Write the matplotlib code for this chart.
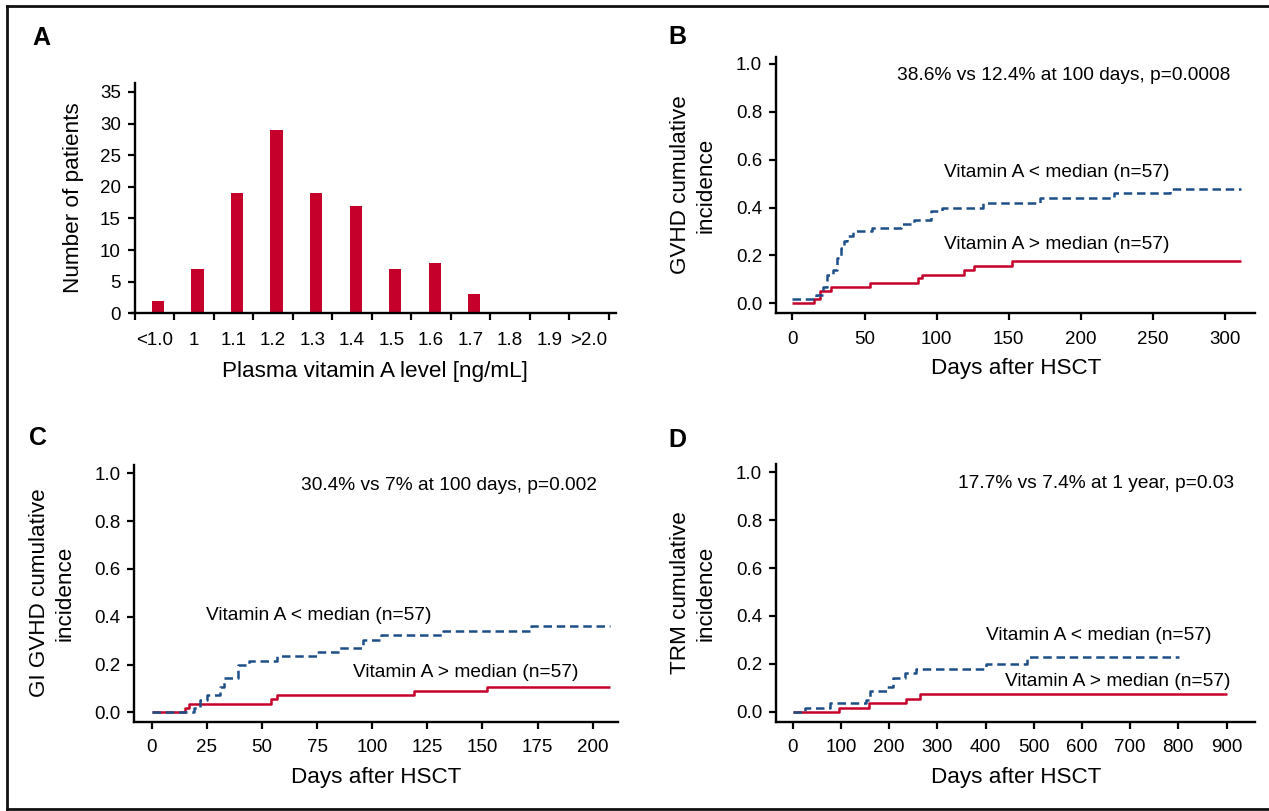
import matplotlib
matplotlib.use('Agg')
import matplotlib.pyplot as plt
from matplotlib.lines import Line2D

W, H = 1269, 811
REG = 'Liberation Sans'
plt.rcParams['font.family'] = [REG, 'DejaVu Sans']

RED = '#c4002b'
BLUE = '#1c4f88'

# ---------------- data ----------------
vitA_levels = ['<1.0', '1', '1.1', '1.2', '1.3', '1.4', '1.5', '1.6', '1.7', '1.8', '1.9', '>2.0']
vitA_counts = [2, 7, 19, 29, 19, 17, 7, 8, 3, 0, 0, 0]
countA_ticks = [0, 5, 10, 15, 20, 25, 30, 35]

# B: GVHD cumulative incidence
gvhd_low_days = [0, 16, 21, 24, 28, 31, 34, 36, 38, 42, 55, 75, 84, 96, 104, 132, 172, 223, 262, 311]
gvhd_low_ci = [0.018, 0.035, 0.07, 0.12, 0.14, 0.19, 0.23, 0.26, 0.28, 0.30, 0.315, 0.33, 0.35,
               0.385, 0.40, 0.42, 0.44, 0.46, 0.476, 0.476]
gvhd_high_days = [0, 15, 19, 27, 54, 87, 90, 119, 126, 152, 311]
gvhd_high_ci = [0, 0.018, 0.05, 0.068, 0.085, 0.105, 0.12, 0.138, 0.156, 0.177, 0.177]
daysB_ticks = [0, 50, 100, 150, 200, 250, 300]

# C: GI GVHD cumulative incidence
gi_low_days = [0, 19, 22, 25, 31, 33, 39, 44, 57, 75, 85, 96, 104, 132, 172, 208]
gi_low_ci = [0, 0.018, 0.053, 0.072, 0.107, 0.145, 0.198, 0.217, 0.235, 0.253, 0.271, 0.304,
             0.323, 0.342, 0.360, 0.360]
gi_high_days = [0, 15, 17, 54, 57, 119, 152, 208]
gi_high_ci = [0, 0.018, 0.036, 0.054, 0.071, 0.089, 0.107, 0.107]
daysC_ticks = [0, 25, 50, 75, 100, 125, 150, 175, 200]

# D: TRM cumulative incidence
trm_low_days = [0, 25, 78, 152, 160, 195, 208, 233, 256, 400, 486, 802]
trm_low_ci = [0, 0.015, 0.035, 0.05, 0.088, 0.105, 0.14, 0.16, 0.177, 0.20, 0.23, 0.23]
trm_high_days = [0, 96, 158, 235, 263, 900]
trm_high_ci = [0, 0.017, 0.035, 0.053, 0.072, 0.072]
daysD_ticks = [0, 100, 200, 300, 400, 500, 600, 700, 800, 900]

ci_ticks = [0.0, 0.2, 0.4, 0.6, 0.8, 1.0]

label_low = 'Vitamin A < median (n=57)'
label_high = 'Vitamin A > median (n=57)'

# ---------------- figure ----------------
fig = plt.figure(figsize=(W / 100, H / 100), dpi=100)
fig.patch.set_facecolor('white')

TICK_FS = 13.5
LAB_FS = 16.2
ANN_FS = 13.8


def px_axes(left, right, top, bottom):
    return fig.add_axes([left / W, 1 - bottom / H, (right - left) / W, (bottom - top) / H])


def style(ax):
    for s in ['top', 'right']:
        ax.spines[s].set_visible(False)
    for s in ['left', 'bottom']:
        ax.spines[s].set_linewidth(1.7)
    ax.tick_params(direction='out', length=5, width=1.6, labelsize=TICK_FS, color='black')
    ax.tick_params(axis='x', pad=7.5)
    ax.tick_params(axis='y', pad=5)
    ax.patch.set_alpha(0)


def ftext(x, y, s, **kw):
    fig.text(x / W, 1 - y / H, s, **kw)


# Panel A
axA = px_axes(132, 616, 82.5, 313.3)
idx = list(range(len(vitA_levels)))
axA.bar([i + 0.09 for i in idx], vitA_counts, width=0.31, color=RED, linewidth=0)
axA.set_xlim(-0.57, 11.68)
axA.set_ylim(0, 36.5)
axA.spines['left'].set_position(('data', -0.5))
axA.set_xticks(idx)
axA.set_xticklabels(vitA_levels)
axA.set_xticks([i - 0.5 for i in range(len(vitA_levels) + 1)], minor=True)
axA.set_yticks(countA_ticks)
style(axA)
axA.tick_params(axis='x', which='major', length=0, pad=13.5)
axA.tick_params(axis='x', which='minor', direction='out', length=5, width=1.6)

ftext(73, 198, 'Number of patients', rotation=90, ha='center', va='center', fontsize=LAB_FS)
ftext(375, 371, 'Plasma vitamin A level [ng/mL]', ha='center', va='center', fontsize=LAB_FS)


def km_panel(left, right, top, bottom, xlim, ylim, xticks, low_d, low_v, high_d, high_v):
    ax = px_axes(left, right, top, bottom)
    ax.plot(high_d, high_v, drawstyle='steps-post', color=RED, lw=1.8, solid_capstyle='butt')
    ax.plot(low_d, low_v, drawstyle='steps-post', color=BLUE, lw=1.8, dashes=(3.4, 1.9))
    ax.set_xlim(*xlim)
    ax.set_ylim(*ylim)
    ax.set_xticks(xticks)
    ax.set_yticks(ci_ticks)
    ax.set_yticklabels([f'{v:.1f}' for v in ci_ticks])
    style(ax)
    return ax


# Panel B
axB = km_panel(776, 1255, 57.3, 313.3, (-11.4, 320.8), (-0.042, 1.028), daysB_ticks,
               gvhd_low_days, gvhd_low_ci, gvhd_high_days, gvhd_high_ci)
axB.text(188, 0.954, '38.6% vs 12.4% at 100 days, p=0.0008', ha='center', va='center', fontsize=ANN_FS)
axB.text(183, 0.545, label_low, ha='center', va='center', fontsize=ANN_FS)
axB.text(183, 0.244, label_high, ha='center', va='center', fontsize=ANN_FS)

# Panel C
axC = km_panel(134.4, 617.6, 465, 721.7, (-7.8, 211.3), (-0.039, 1.035), daysC_ticks,
               gi_low_days, gi_low_ci, gi_high_days, gi_high_ci)
axC.text(135, 0.951, '30.4% vs 7% at 100 days, p=0.002', ha='center', va='center', fontsize=ANN_FS)
axC.text(76, 0.404, label_low, ha='center', va='center', fontsize=ANN_FS)
axC.text(142.5, 0.167, label_high, ha='center', va='center', fontsize=ANN_FS)

# Panel D
axD = km_panel(776, 1255, 464.3, 721.7, (-34.9, 959), (-0.0418, 1.0334), daysD_ticks,
               trm_low_days, trm_low_ci, trm_high_days, trm_high_ci)
axD.text(629, 0.954, '17.7% vs 7.4% at 1 year, p=0.03', ha='center', va='center', fontsize=ANN_FS)
axD.text(634, 0.320, label_low, ha='center', va='center', fontsize=ANN_FS)
axD.text(674, 0.125, label_high, ha='center', va='center', fontsize=ANN_FS)

# axis labels for B, C, D
for (x, y, s) in [(693.5, 185, 'GVHD cumulative\nincidence'),
                  (52.5, 593, 'GI GVHD cumulative\nincidence'),
                  (693.5, 593, 'TRM cumulative\nincidence')]:
    ftext(x, y, s, rotation=90, ha='center', va='center', multialignment='center',
          fontsize=LAB_FS, linespacing=1.3)
for (x, y) in [(1016, 369), (376, 778), (1016, 778)]:
    ftext(x, y, 'Days after HSCT', ha='center', va='center', fontsize=LAB_FS)

# panel letters
for (x, y, s) in [(41, 38, 'A'), (677, 37, 'B'), (38, 438, 'C'), (677, 440, 'D')]:
    ftext(x, y, s, ha='center', va='center', fontsize=18, fontweight='bold')

# outer frame (left, top, bottom)
frame_kw = dict(color='#111111', lw=2.0, transform=fig.transFigure)
fig.add_artist(Line2D([7 / W, 7 / W], [1 - 809 / H, 1 - 6 / H], **frame_kw))
fig.add_artist(Line2D([7 / W, 1.0], [1 - 6 / H, 1 - 6 / H], **frame_kw))
fig.add_artist(Line2D([7 / W, 1.0], [1 - 809 / H, 1 - 809 / H], **frame_kw))

fig.savefig('out.png', dpi=100)
